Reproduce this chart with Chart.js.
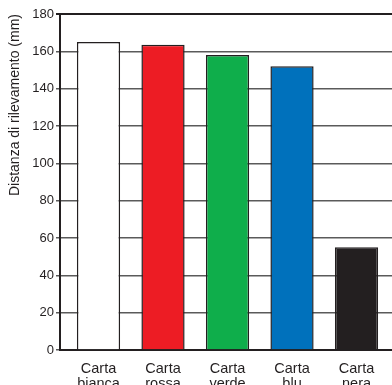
<!DOCTYPE html>
<html>
<head>
<meta charset="utf-8">
<script src="https://cdn.jsdelivr.net/npm/chart.js@4/dist/chart.umd.min.js"></script>
<style>
  html, body { margin: 0; padding: 0; background: #fff; }
  #wrap { width: 392px; height: 385px; }
</style>
</head>
<body>
<div id="wrap"><canvas id="chart"></canvas></div>
<script>
  // Chart data
  const categories = [['Carta', 'bianca'], ['Carta', 'rossa'], ['Carta', 'verde'], ['Carta', 'blu'], ['Carta', 'nera']];
  const values = [165, 163.5, 158, 152, 55];
  const yTicks = [0, 20, 40, 60, 80, 100, 120, 140, 160, 180];

  const barColors = ['#ffffff', '#ed1c24', '#0fae4b', '#0071bc', '#231f20'];
  const ink = '#231f20';
  const font = 'Liberation Sans, Arial, sans-serif';

  const points = values.map((v, i) => ({ x: i + 1, y: v }));

  new Chart(document.getElementById('chart'), {
    type: 'bar',
    data: {
      datasets: [{
        data: points,
        backgroundColor: barColors,
        borderColor: ink,
        borderWidth: 1.5,
        borderSkipped: 'bottom',
        barPercentage: 0.67,
        categoryPercentage: 1
      }]
    },
    options: {
      responsive: true,
      maintainAspectRatio: false,
      animation: false,
      layout: { padding: { top: 14, right: 0, bottom: 0, left: 0 } },
      plugins: {
        legend: { display: false },
        tooltip: { enabled: false }
      },
      scales: {
        x: {
          type: 'linear',
          offset: false,
          min: 0.403,
          max: 5.55,
          afterBuildTicks: axis => {
            axis.ticks = categories.map((_, i) => ({ value: i + 1 }));
          },
          afterFit: axis => { axis.height = 35; },
          ticks: {
            autoSkip: false,
            maxRotation: 0,
            padding: 11,
            color: ink,
            font: { family: font, size: 14.5, lineHeight: 1.05 },
            callback: v => categories[v - 1] || ''
          },
          grid: { display: false, drawTicks: false },
          border: { display: true, color: ink, width: 2 }
        },
        y: {
          min: 0,
          max: 180,
          afterBuildTicks: axis => {
            axis.ticks = yTicks.map(v => ({ value: v }));
          },
          afterFit: axis => { axis.width = 60; },
          ticks: {
            padding: 2,
            color: ink,
            font: { family: font, size: 13 }
          },
          grid: {
            drawTicks: true,
            tickLength: 4,
            color: ctx => (ctx.tick && (ctx.tick.value === 180) ? ink : '#5a5a5a'),
            lineWidth: ctx => (ctx.tick && (ctx.tick.value === 180) ? 2 : 1.5)
          },
          border: { display: true, color: ink, width: 2 },
          title: {
            display: true,
            text: 'Distanza di rilevamento (mm)',
            align: 'end',
            color: ink,
            padding: { top: 7, bottom: 0 },
            font: { family: font, size: 14 }
          }
        }
      }
    }
  });
</script>
</body>
</html>
